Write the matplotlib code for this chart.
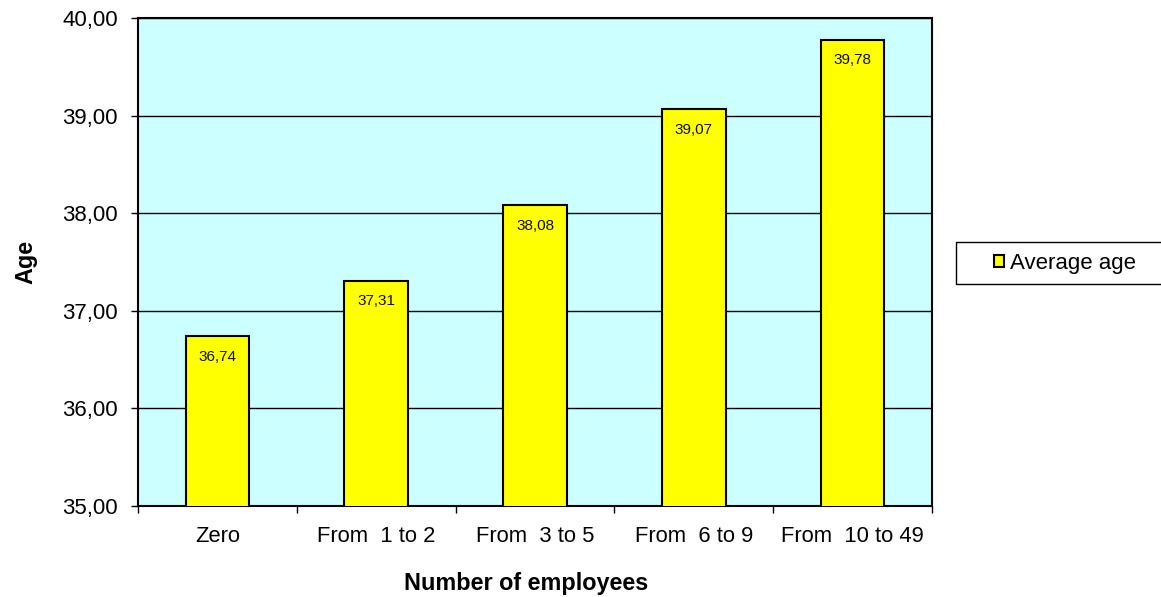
import matplotlib
matplotlib.use("Agg")
import matplotlib.pyplot as plt
import matplotlib.patches as patches
import numpy as np

# average age by firm size
categories = ["Zero", "From  1 to 2", "From  3 to 5", "From  6 to 9", "From  10 to 49"]
avg_age = [36.74, 37.31, 38.08, 39.07, 39.78]
y_ticks = [35, 36, 37, 38, 39, 40]

plt.rcParams["font.family"] = ["Liberation Sans", "DejaVu Sans"]

fig = plt.figure(figsize=(11.61, 5.97), dpi=100)
ax = fig.add_axes([0.1189, 0.1524, 0.6839, 0.8174])
ax.set_facecolor("#CCFFFF")

x = np.arange(len(categories))
ax.bar(x, avg_age, width=0.4, bottom=0, color="#FFFF00",
       edgecolor="black", linewidth=1.5, zorder=3, label="Average age")

for xi, v in zip(x, avg_age):
    ax.annotate(("%.2f" % v).replace(".", ","), (xi, v), xytext=(0, -10),
                textcoords="offset points", ha="center", va="top",
                fontsize=11, color="#111111", zorder=4)

ax.set_xlim(-0.5, len(categories) - 0.5)
ax.set_ylim(35, 40)
ax.set_yticks(y_ticks)
ax.set_yticklabels(["%d,00" % t for t in y_ticks], fontsize=16)
ax.yaxis.grid(True, color="black", linewidth=1, zorder=1)

ax.set_xticks(x)
ax.set_xticklabels(categories, fontsize=15.8)
ax.set_xticks(np.arange(len(categories) + 1) - 0.5, minor=True)
ax.tick_params(axis="x", which="major", length=0, pad=14.5)
ax.tick_params(axis="x", which="minor", length=5, width=1)
ax.tick_params(axis="y", length=5, width=1, pad=9.5)

for s in ax.spines.values():
    s.set_linewidth(1.5)

ax.set_xlabel("Number of employees", fontsize=16.8, fontweight="bold")
ax.xaxis.set_label_coords(0.489, -0.136)
ax.set_ylabel("Age", fontsize=16.8, fontweight="bold", labelpad=18)

# legend: open-ended box reaching past the right edge
fig.patches.append(patches.Rectangle((956 / 1161, 1 - 284 / 597), 0.2, 42 / 597,
                                     transform=fig.transFigure, facecolor="white",
                                     edgecolor="black", linewidth=1))
leg = fig.legend(loc="center left", bbox_to_anchor=(994 / 1161, 1 - 263 / 597),
                 frameon=False, fontsize=16, handlelength=0.45, handleheight=0.45,
                 handletextpad=0.25, borderpad=0, borderaxespad=0)

fig.savefig("out.png", dpi=100)
